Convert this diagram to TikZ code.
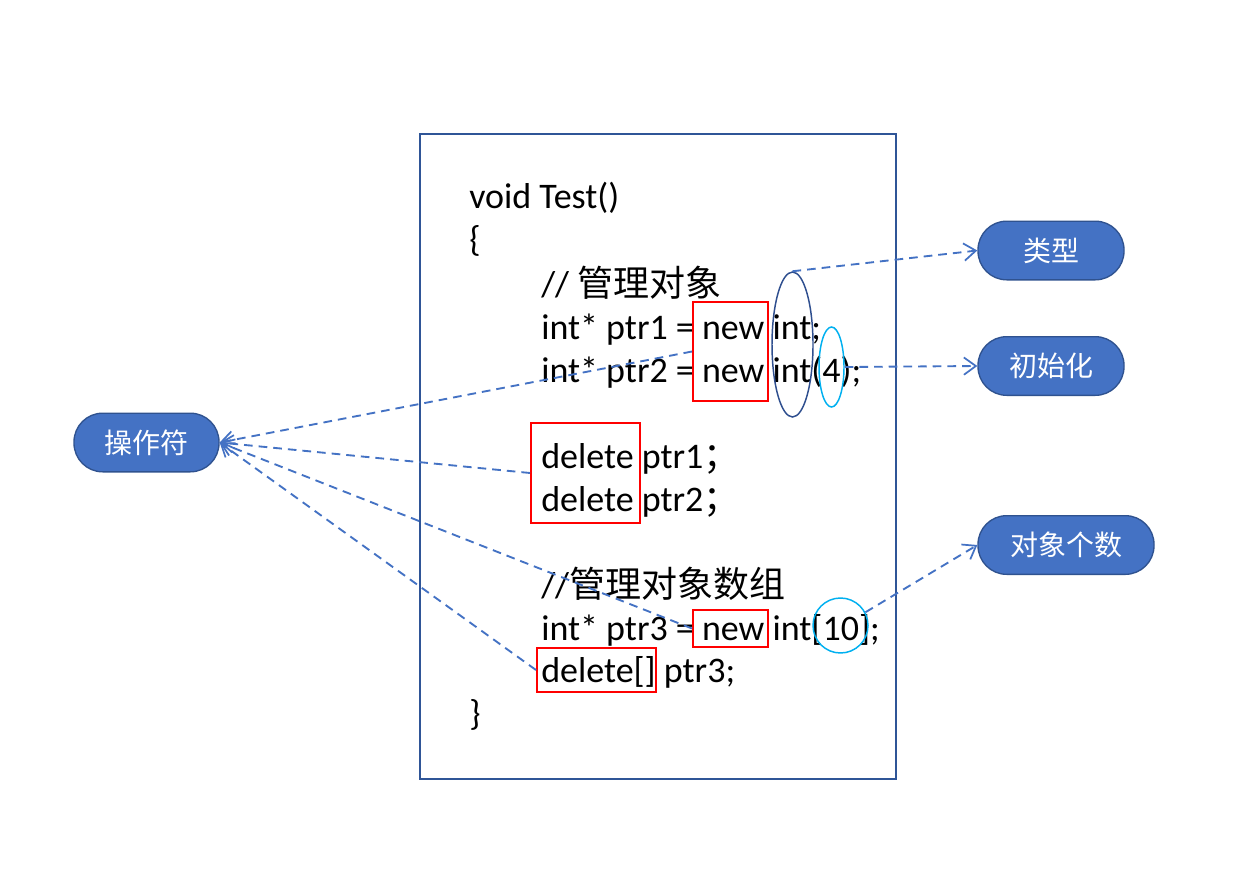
\documentclass[tikz,border=0pt]{standalone}
\usepackage{fontspec}
\setmainfont{Carlito}
\newfontfamily\cjk{Noto Sans CJK SC}
\usetikzlibrary{arrows.meta,shapes.geometric}
\definecolor{pillblue}{HTML}{4472C4}
\definecolor{pillborder}{HTML}{2F528F}
\definecolor{framecol}{HTML}{2F5597}
\definecolor{ellcol}{HTML}{2F4F8F}
\definecolor{cyancol}{HTML}{00B0F0}
\definecolor{redcol}{HTML}{FF0000}
\begin{document}
\begin{tikzpicture}[x=0.75pt,y=-0.75pt,
  codeline/.style={anchor=base west,inner sep=0pt,font=\fontsize{27}{32}\selectfont},
  redbox/.style={draw=redcol,line width=1.5pt,inner sep=0pt,rectangle},
  pill/.style={rectangle,rounded corners=21.5pt,fill=pillblue,draw=pillborder,line width=1pt,
     minimum height=44pt,text=white,font=\fontsize{21}{25}\selectfont\cjk,inner sep=0pt},
  pointer/.style={draw=pillblue,line width=1.4pt,dash pattern=on 6.5pt off 4.5pt,
     -{Straight Barb[length=9pt,width=13pt,line width=1.3pt]}},
  ell/.style={ellipse,draw,inner sep=0pt}]
\useasboundingbox (0,0) rectangle (1248,888);
\fill[white] (0,0) rectangle (1248,888);
% main frame
\node[draw=framecol,line width=1.5pt,rectangle,inner sep=0pt,minimum width=357pt,minimum height=483.75pt] (frame) at (658,456.5) {};
% code lines
\node[codeline] (l1) at (469,208) {void Test()};
\node[codeline] (l2) at (469,251) {\{};
\node[codeline] (l3) at (541,296) {// {\cjk 管理对象}};
\node[codeline] (l4) at (541,339) {int* ptr1 = new int;};
\node[codeline] (l5) at (541,382) {int* ptr2 = new int(4);};
\node[codeline] (l6) at (541,468) {delete ptr1{\cjk ；}};
\node[codeline] (l7) at (541,511) {delete ptr2{\cjk ；}};
\node[codeline] (l8) at (541,597) {//{\cjk 管理对象数组}};
\node[codeline] (l9) at (541,640) {int* ptr3 = new int[10];};
\node[codeline] (l10) at (541,682) {delete[] ptr3;};
\node[codeline] (l11) at (469,725) {\}};
% red boxes
\node[redbox,minimum width=56.25pt,minimum height=74.25pt] (newbox) at (730.5,351.5) {};
\node[redbox,minimum width=81.75pt,minimum height=75pt] (delbox) at (585.5,473) {};
\node[redbox,minimum width=56.25pt,minimum height=27.75pt] (newthree) at (730.5,628.5) {};
\node[redbox,minimum width=89.25pt,minimum height=33pt] (delthree) at (596.5,670) {};
% ellipses
\node[ell,draw=ellcol,line width=1.1pt,minimum width=30.75pt,minimum height=108.75pt] (etype) at (792.5,344.5) {};
\node[ell,draw=cyancol,line width=1.1pt,minimum width=18.75pt,minimum height=60pt] (einit) at (831.5,367) {};
\node[circle,draw=cyancol,line width=1.1pt,inner sep=0pt,minimum size=41.25pt] (ecount) at (840.5,625.5) {};
% pills
\node[pill,minimum width=108.75pt] (op) at (146.5,442.5) {操作符};
\node[pill,minimum width=109.5pt] (type) at (1051,250.5) {类型};
\node[pill,minimum width=109.5pt] (init) at (1051,366) {初始化};
\node[pill,minimum width=132pt] (count) at (1066,545) {对象个数};
% pointers
\draw[pointer] (etype.north) -- (type.west);
\draw[pointer] (einit.east) -- (init.west);
\draw[pointer] (ecount.28) -- (count.west);
\draw[pointer] (newbox.west) -- (op.east);
\draw[pointer] (delbox.west) -- (op.east);
\draw[pointer] (newthree.west) -- (op.east);
\draw[pointer] (delthree.west) -- (op.east);
\end{tikzpicture}
\end{document}
